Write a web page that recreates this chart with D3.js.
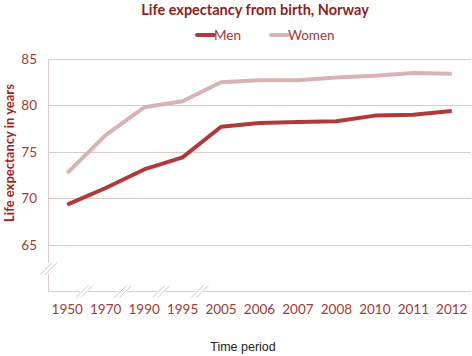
<!DOCTYPE html>
<html>
<head>
<meta charset="utf-8">
<script src="https://cdn.jsdelivr.net/npm/d3@7"></script>
<style>
  body { margin: 0; background: #fff; }
  text { font-family: Lato, "Open Sans", sans-serif; }
</style>
</head>
<body>
<div id="chart"></div>
<script>
const periods = ["1950", "1970", "1990", "1995", "2005", "2006", "2007", "2008", "2010", "2011", "2012"];
const men = [69.3, 71.1, 73.1, 74.4, 77.7, 78.1, 78.2, 78.3, 78.9, 79.0, 79.4];
const women = [72.7, 76.8, 79.8, 80.45, 82.5, 82.7, 82.7, 83.0, 83.2, 83.5, 83.4];
const yTicks = [65, 70, 75, 80, 85];
// categories followed by an axis break
const breakAfter = ["1950", "1970", "1990", "1995"];

const width = 472, height = 356;
const margin = { top: 59, right: 1, bottom: 65, left: 48 };
const textColor = "#a33a36";

const svg = d3.select("#chart").append("svg")
  .attr("width", width)
  .attr("height", height);

const x = d3.scaleBand()
  .domain(periods)
  .range([margin.left, width - margin.right]);

const y = d3.scaleLinear()
  .domain([60, 85])
  .range([height - margin.bottom, margin.top]);

const cx = d => x(d) + x.bandwidth() / 2;

// gridlines
svg.append("g")
  .selectAll("line")
  .data(yTicks)
  .join("line")
  .attr("x1", margin.left)
  .attr("x2", width - margin.right)
  .attr("y1", d => Math.round(y(d)) + 0.5)
  .attr("y2", d => Math.round(y(d)) + 0.5)
  .attr("stroke", "#e3c9c9")
  .attr("stroke-width", 1);

// axes
const x0 = margin.left + 0.5;
const yBottom = Math.round(y(60)) + 0.5;
svg.append("line")
  .attr("x1", x0).attr("x2", x0)
  .attr("y1", y(85)).attr("y2", yBottom)
  .attr("stroke", "#e3c9c9");
svg.append("line")
  .attr("x1", margin.left).attr("x2", width - margin.right)
  .attr("y1", yBottom).attr("y2", yBottom)
  .attr("stroke", "#e3c9c9");

// break marks
function drawBreak(px, py) {
  const g = svg.append("g").attr("transform", `translate(${px},${py})`);
  g.append("polygon")
    .attr("points", "-7,5 -1,-6 7,-6 1,5")
    .attr("fill", "#fff");
  [-2.5, 2.5].forEach(o => {
    g.append("line")
      .attr("x1", -6 + o).attr("y1", 6)
      .attr("x2", 6 + o).attr("y2", -6)
      .attr("stroke", "#c8c8c8")
      .attr("stroke-width", 1);
  });
}
drawBreak(x0, y(62.4));
breakAfter.forEach(p => drawBreak(x(p) + x.bandwidth() - 2, yBottom));

// y tick labels
svg.append("g")
  .selectAll("text")
  .data(yTicks)
  .join("text")
  .attr("x", 37)
  .attr("y", d => y(d) + 5)
  .attr("text-anchor", "end")
  .attr("font-size", "13.5px")
  .attr("fill", textColor)
  .text(d => d);

// x tick labels
svg.append("g")
  .selectAll("text")
  .data(periods)
  .join("text")
  .attr("x", d => cx(d))
  .attr("y", 314)
  .attr("text-anchor", "middle")
  .attr("font-size", "13.5px")
  .attr("fill", textColor)
  .text(d => d);

// lines
const line = d3.line()
  .x((d, i) => cx(periods[i]))
  .y(d => y(d));

const series = [
  { name: "Men", values: men, color: "#b03a3a" },
  { name: "Women", values: women, color: "#d7b3b3" }
];

svg.append("g")
  .selectAll("path")
  .data(series)
  .join("path")
  .attr("d", d => line(d.values))
  .attr("fill", "none")
  .attr("stroke", d => d.color)
  .attr("stroke-width", 4)
  .attr("stroke-linejoin", "round");

// title
svg.append("text")
  .attr("x", 255)
  .attr("y", 15)
  .attr("text-anchor", "middle")
  .attr("font-size", "14.5px")
  .attr("font-weight", "bold")
  .attr("fill", "#8e1f1c")
  .text("Life expectancy from birth, Norway");

// legend
const legendX = [197, 271];
series.forEach((s, i) => {
  const lg = svg.append("g").attr("transform", `translate(${legendX[i]}, 35)`);
  lg.append("line")
    .attr("x1", 0).attr("x2", 17)
    .attr("stroke", s.color)
    .attr("stroke-width", 4)
    .attr("stroke-linecap", "round");
  lg.append("text")
    .attr("x", 17)
    .attr("y", 5)
    .attr("font-size", "13.5px")
    .attr("fill", textColor)
    .text(s.name);
});

// y axis title
svg.append("text")
  .attr("transform", `translate(14, 153) rotate(-90)`)
  .attr("text-anchor", "middle")
  .attr("font-size", "13px")
  .attr("font-weight", "bold")
  .attr("fill", "#a01f1c")
  .text("Life expectancy in years");

// x axis title
svg.append("text")
  .attr("x", 243)
  .attr("y", 351)
  .style("font-family", "'Liberation Sans', Arial, sans-serif")
  .attr("text-anchor", "middle")
  .attr("font-size", "12.5px")
  .attr("fill", "#222")
  .text("Time period");
</script>
</body>
</html>
